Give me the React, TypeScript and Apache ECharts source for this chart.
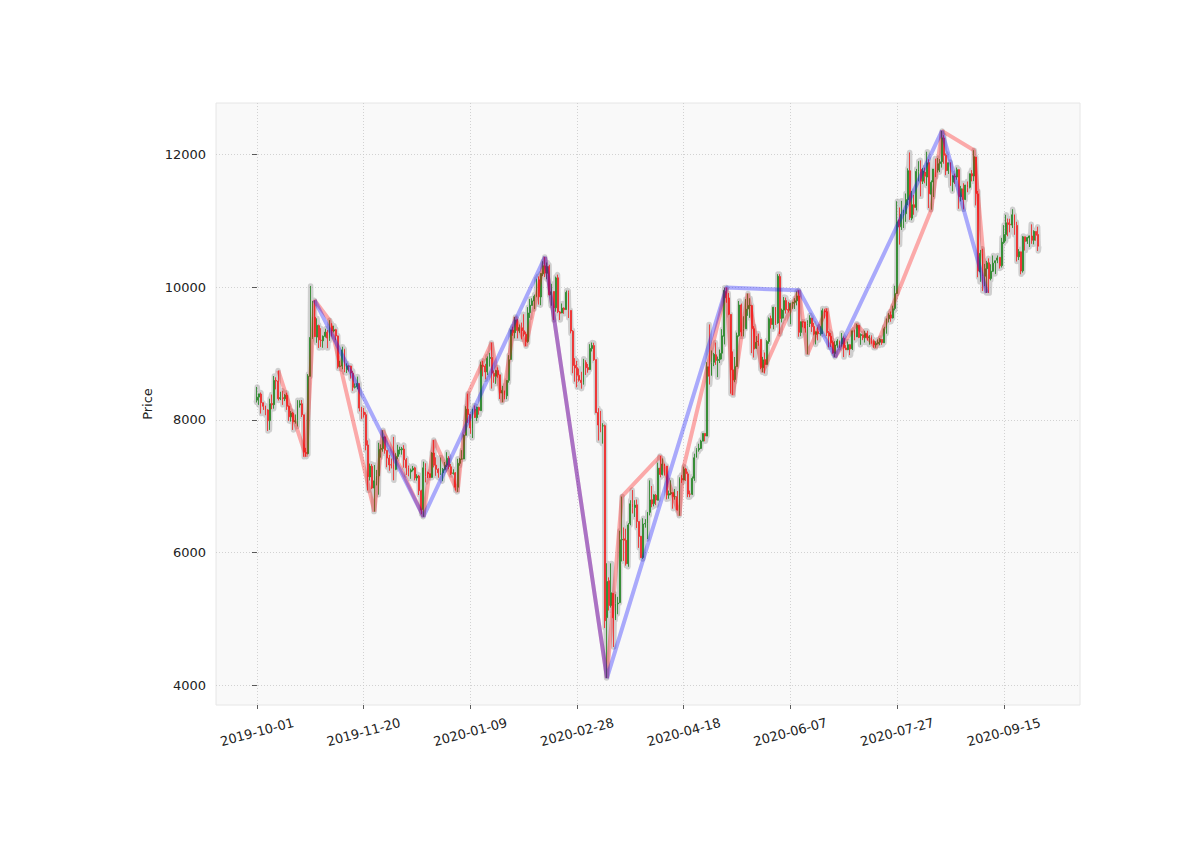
import React, { useEffect, useRef } from "react";
import * as echarts from "echarts";

// Daily candles, each row = [open, high, low, close]
const oct2019 = [
  [8299, 8497, 8263, 8344], [8344, 8393, 8227, 8393], [8390, 8413, 8096, 8260], [8260, 8260, 8151, 8206],
  [8210, 8215, 8071, 8151], [8150, 8161, 7833, 7988], [7990, 8320, 7849, 8245], [8246, 8383, 8162, 8228],
  [8230, 8662, 8169, 8595], [8595, 8643, 8460, 8586], [8586, 8745, 8293, 8321], [8321, 8425, 8298, 8336],
  [8336, 8440, 8227, 8321], [8320, 8390, 8284, 8374], [8373, 8410, 8151, 8205], [8205, 8218, 7985, 8047],
  [8048, 8134, 7975, 8103], [8100, 8120, 7849, 7973], [7973, 8082, 7944, 7988], [7997, 8298, 7902, 8222],
  [8226, 8297, 8185, 8243], [8243, 8300, 8044, 8078], [8077, 8077, 7443, 7514], [7509, 7579, 7446, 7493],
  [7491, 8691, 7480, 8660], [8657, 10021, 8657, 9244], [9242, 9794, 9222, 9551], [9549, 9806, 9258, 9256],
  [9249, 9532, 9163, 9427], [9422, 9438, 9085, 9205], [9202, 9383, 9101, 9199],
];
const nov2019 = [
  [9193, 9273, 9088, 9261], [9260, 9375, 9243, 9324], [9324, 9355, 9083, 9235], [9235, 9505, 9192, 9412],
  [9414, 9458, 9257, 9342], [9341, 9421, 9319, 9360], [9360, 9374, 9202, 9267], [9267, 9272, 8775, 8804],
  [8809, 8891, 8793, 8813], [8812, 9104, 8765, 9055], [9060, 9072, 8719, 8757], [8759, 8853, 8707, 8816],
  [8813, 8823, 8730, 8809], [8812, 8816, 8623, 8708], [8705, 8740, 8439, 8491], [8491, 8550, 8474, 8502],
  [8502, 8653, 8463, 8550], [8550, 8550, 8129, 8178], [8175, 8197, 8016, 8113], [8119, 8181, 8034, 8078],
  [8078, 8115, 7541, 7618], [7622, 7691, 6936, 7143], [7140, 7342, 7086, 7303], [7301, 7334, 6956, 6973],
  [6972, 7319, 6617, 7081], [7085, 7245, 7012, 7156], [7156, 7655, 6872, 7556], [7556, 7632, 7431, 7569],
  [7567, 7844, 7521, 7743], [7744, 7752, 7491, 7542],
];
const dec2019 = [
  [7540, 7540, 7286, 7424], [7424, 7474, 7233, 7322], [7323, 7418, 7268, 7321], [7320, 7743, 7090, 7252],
  [7254, 7498, 7242, 7448], [7450, 7625, 7407, 7547], [7548, 7596, 7480, 7556], [7551, 7592, 7476, 7565],
  [7561, 7619, 7280, 7400], [7398, 7424, 7170, 7278], [7277, 7312, 7150, 7218], [7216, 7266, 7112, 7243],
  [7245, 7305, 7223, 7269], [7277, 7293, 7088, 7124], [7125, 7181, 7084, 7152], [7154, 7171, 6867, 6932],
  [6931, 6947, 6577, 6640], [6647, 7370, 6540, 7277], [7277, 7346, 7058, 7150], [7208, 7220, 7124, 7187],
  [7188, 7190, 7125, 7133], [7133, 7513, 7129, 7501], [7501, 7696, 7283, 7317], [7318, 7436, 7157, 7255],
  [7255, 7271, 7128, 7204], [7199, 7433, 7170, 7202], [7202, 7275, 7076, 7254], [7254, 7365, 7238, 7317],
  [7317, 7513, 7290, 7423], [7421, 7454, 7257, 7293], [7294, 7335, 7170, 7193],
];
const jan2020 = [
  [7194, 7255, 7175, 7200], [7202, 7213, 6935, 6985], [6984, 7413, 6914, 7345], [7345, 7427, 7309, 7410],
  [7410, 7544, 7400, 7411], [7411, 7781, 7409, 7769], [7768, 8207, 7768, 8163], [8161, 8396, 7956, 8079],
  [8083, 8083, 7791, 7879], [7878, 8166, 7727, 8166], [8162, 8218, 8029, 8037], [8033, 8197, 7985, 8193],
  [8189, 8198, 8079, 8144], [8140, 8879, 8140, 8828], [8825, 8891, 8657, 8807], [8812, 8846, 8612, 8723],
  [8725, 8959, 8677, 8929], [8927, 9012, 8805, 8942], [8941, 9165, 8473, 8706], [8705, 8745, 8560, 8657],
  [8658, 8755, 8544, 8745], [8744, 8792, 8636, 8680], [8680, 8680, 8315, 8406], [8405, 8514, 8266, 8445],
  [8440, 8441, 8311, 8367], [8364, 8595, 8313, 8596], [8597, 8977, 8562, 8909], [8912, 9358, 8908, 9358],
  [9357, 9406, 9269, 9317], [9316, 9553, 9230, 9508], [9509, 9521, 9230, 9350],
];
const feb2020 = [
  [9346, 9439, 9313, 9393], [9389, 9468, 9217, 9345], [9345, 9594, 9260, 9293], [9292, 9331, 9112, 9181],
  [9184, 9701, 9163, 9613], [9617, 9824, 9539, 9730], [9726, 9834, 9726, 9795], [9793, 9890, 9672, 9865],
  [9863, 10129, 9850, 10116], [10115, 10165, 9740, 9856], [9855, 10210, 9730, 10208], [10203, 10393, 10169, 10326],
  [10323, 10458, 10154, 10214], [10211, 10374, 10123, 10313], [10313, 10341, 9875, 9889], [9889, 10053, 9722, 9934],
  [9937, 9938, 9507, 9690], [9691, 10161, 9632, 10142], [10144, 10191, 9611, 9633], [9629, 9643, 9507, 9608],
  [9612, 9756, 9611, 9686], [9687, 9698, 9600, 9663], [9664, 9951, 9663, 9924], [9921, 9951, 9537, 9650],
  [9651, 9652, 9305, 9341], [9338, 9354, 8704, 8820], [8825, 8932, 8577, 8784], [8788, 8890, 8492, 8672],
  [8671, 8775, 8577, 8599],
];
const mar2020 = [
  [8599, 8726, 8471, 8563], [8563, 8921, 8532, 8869], [8866, 8900, 8678, 8787], [8789, 8844, 8712, 8756],
  [8760, 9142, 8757, 9078], [9078, 9167, 9032, 9122], [9121, 9163, 8890, 8909], [8908, 8914, 8105, 8108],
  [8111, 8177, 7690, 7923], [7922, 8136, 7814, 7909], [7910, 7950, 7642, 7911], [7913, 7929, 4860, 4971],
  [5018, 5838, 4106, 5563], [5574, 5625, 5125, 5200], [5201, 5836, 5169, 5393], [5385, 5385, 4575, 5015],
  [5002, 5371, 4981, 5226], [5227, 5331, 5069, 5238], [5245, 6329, 5236, 6191], [6191, 6844, 5865, 6198],
  [6206, 6378, 5874, 6185], [6185, 6359, 5802, 5831], [5831, 6443, 5785, 6416], [6436, 6789, 6411, 6735],
  [6738, 6942, 6589, 6681], [6679, 6789, 6536, 6716], [6719, 6798, 6370, 6469], [6467, 6467, 6070, 6243],
  [6245, 6250, 5920, 5922], [5925, 6517, 5903, 6429], [6431, 6504, 6375, 6438],
];
const apr2020 = [
  [6437, 6612, 6202, 6607], [6606, 7088, 6560, 6793], [6797, 7003, 6683, 6733], [6738, 6878, 6696, 6868],
  [6863, 6883, 6715, 6792], [6788, 7355, 6788, 7271], [7274, 7456, 7134, 7177], [7176, 7419, 7163, 7335],
  [7337, 7337, 7162, 7302], [7304, 7304, 6802, 6866], [6866, 6935, 6811, 6888], [6886, 7089, 6866, 6904],
  [6904, 6904, 6661, 6842], [6842, 6958, 6797, 6842], [6845, 6928, 6633, 6642], [6640, 7134, 6555, 7116],
  [7116, 7167, 7050, 7096], [7093, 7293, 7089, 7257], [7261, 7276, 7078, 7189], [7186, 7220, 6835, 6882],
  [6880, 6934, 6834, 6880], [6879, 7146, 6867, 7117], [7121, 7491, 7081, 7429], [7434, 7574, 7434, 7551],
  [7551, 7641, 7521, 7570], [7570, 7700, 7561, 7679], [7680, 7795, 7679, 7796], [7796, 7798, 7678, 7758],
  [7756, 8871, 7756, 8801], [8801, 9440, 8533, 8659],
];
const may2020 = [
  [8672, 9048, 8667, 8864], [8869, 9012, 8811, 8989], [8983, 9167, 8830, 8897], [8896, 8956, 8645, 8912],
  [8913, 9062, 8858, 9003], [9007, 9369, 8914, 9268], [9261, 9992, 9139, 9952], [9936, 9996, 9767, 9843],
  [9840, 9913, 9580, 9594], [9591, 9595, 8396, 8756], [8755, 9033, 8374, 8601], [8610, 8949, 8569, 8805],
  [8805, 9317, 8805, 9270], [9271, 9793, 9255, 9733], [9734, 9755, 9261, 9328], [9333, 9564, 9260, 9377],
  [9374, 9823, 9374, 9670], [9675, 9906, 9570, 9727], [9727, 9836, 9539, 9729], [9726, 9727, 9007, 9377],
  [9375, 9414, 8941, 9068], [9081, 9264, 9070, 9170], [9185, 9302, 9118, 9179], [9213, 9214, 8766, 8790],
  [8786, 8951, 8719, 8906], [8910, 9017, 8700, 8835], [8837, 9203, 8834, 9181], [9184, 9546, 9148, 9525],
  [9528, 9573, 9379, 9439], [9438, 9704, 9367, 9700], [9700, 9700, 9432, 9461],
];
const jun2020 = [
  [9463, 10199, 9450, 10167], [10162, 10199, 9296, 9529], [9533, 9679, 9471, 9657], [9656, 9853, 9531, 9800],
  [9800, 9845, 9603, 9665], [9665, 9782, 9620, 9653], [9653, 9768, 9442, 9758], [9760, 9782, 9675, 9771],
  [9774, 9836, 9673, 9796], [9796, 9938, 9728, 9870], [9870, 9954, 9255, 9321], [9320, 9484, 9263, 9480],
  [9480, 9486, 9396, 9475], [9477, 9481, 9317, 9386], [9427, 9504, 8990, 9450], [9454, 9579, 9401, 9538],
  [9533, 9540, 9327, 9406], [9410, 9463, 9274, 9294], [9290, 9333, 9139, 9331], [9330, 9397, 9200, 9301],
  [9301, 9413, 9271, 9301], [9300, 9680, 9296, 9648], [9644, 9670, 9531, 9629], [9633, 9680, 9264, 9313],
  [9314, 9340, 9095, 9264], [9261, 9310, 9101, 9163], [9167, 9197, 8998, 9010], [9003, 9188, 8950, 9129],
  [9127, 9218, 9088, 9190], [9186, 9197, 9087, 9138],
];
const jul2020 = [
  [9145, 9310, 9104, 9232], [9231, 9259, 8948, 9086], [9085, 9128, 9058, 9059], [9059, 9183, 9053, 9135],
  [9135, 9142, 8977, 9069], [9073, 9345, 9055, 9343], [9350, 9361, 9201, 9253], [9253, 9450, 9250, 9429],
  [9427, 9431, 9234, 9244], [9274, 9304, 9133, 9287], [9277, 9291, 9203, 9240], [9241, 9343, 9167, 9302],
  [9304, 9345, 9197, 9243], [9242, 9279, 9134, 9253], [9255, 9275, 9149, 9197], [9192, 9215, 9088, 9133],
  [9132, 9186, 9089, 9154], [9152, 9214, 9138, 9171], [9171, 9234, 9125, 9214], [9213, 9215, 9132, 9164],
  [9163, 9404, 9164, 9375], [9376, 9530, 9300, 9525], [9527, 9610, 9470, 9581], [9585, 9636, 9481, 9536],
  [9539, 9723, 9530, 9677], [9681, 10023, 9652, 9905], [9906, 11298, 9903, 10990], [11018, 11204, 10644, 10912],
  [10913, 11304, 10865, 11100], [11110, 11169, 10895, 11111], [11110, 11415, 10988, 11323],
];
const aug2020 = [
  [11322, 11794, 11239, 11759], [11758, 12034, 11018, 11053], [11043, 11453, 11012, 11246], [11246, 11393, 11094, 11205],
  [11203, 11786, 11160, 11747], [11749, 11902, 11598, 11779], [11779, 11915, 11372, 11601], [11601, 11800, 11558, 11754],
  [11738, 11806, 11570, 11675], [11663, 12045, 11531, 11878], [11881, 11932, 11195, 11411], [11404, 11612, 11171, 11584],
  [11588, 11778, 11362, 11784], [11773, 11941, 11663, 11769], [11768, 11950, 11731, 11865], [11866, 11934, 11737, 11892],
  [11895, 12359, 11806, 12254], [12252, 12295, 11864, 11991], [11991, 12019, 11691, 11758], [11761, 11880, 11710, 11878],
  [11878, 11886, 11530, 11592], [11585, 11689, 11448, 11681], [11679, 11715, 11559, 11664], [11663, 11807, 11623, 11774],
  [11774, 11779, 11185, 11367], [11366, 11530, 11296, 11488], [11485, 11570, 11176, 11324], [11325, 11545, 11316, 11542],
  [11542, 11596, 11434, 11507], [11508, 11715, 11492, 11712], [11714, 11768, 11598, 11680],
];
const sep2020 = [
  [11679, 12068, 11601, 11971], [11965, 11965, 11235, 11414], [11409, 11453, 10152, 10245], [10231, 10564, 10083, 10512],
  [10512, 10582, 9945, 10169], [10168, 10353, 10017, 10280], [10281, 10399, 9916, 10370], [10370, 10437, 9913, 10131],
  [10134, 10348, 10105, 10242], [10242, 10480, 10231, 10364], [10370, 10397, 10200, 10400], [10410, 10480, 10364, 10443],
  [10453, 10454, 10283, 10324], [10328, 10746, 10299, 10680], [10677, 10938, 10656, 10796], [10797, 11094, 10694, 10974],
  [10973, 11037, 10770, 10948], [10951, 11034, 10829, 10944], [10938, 11178, 10895, 11094], [11095, 11095, 10792, 10938],
  [10934, 10988, 10390, 10462], [10460, 10576, 10411, 10538], [10535, 10537, 10197, 10246], [10249, 10775, 10222, 10761],
  [10762, 10762, 10554, 10692], [10696, 10759, 10654, 10750], [10746, 10780, 10608, 10775], [10774, 10950, 10656, 10709],
  [10710, 10860, 10648, 10844], [10843, 10843, 10702, 10785],
];
const oct2020 = [[10796, 10914, 10548, 10620]];

// Zigzag pivots: [day index from 2019-10-01, price]
const zigzagRed = [
  [10, 8745], [23, 7446], [27, 9806], [34, 9505], [55, 6617], [59, 7844], [78, 6540], [83, 7696],
  [94, 6914], [99, 8396], [110, 9165], [115, 8266], [121, 9553], [126, 9112], [135, 10458], [164, 4106],
  [171, 6844], [189, 7456], [198, 6555], [200, 7293], [220, 9996], [223, 8374], [230, 9906], [237, 8719],
  [254, 9954], [258, 8990], [267, 9680], [271, 8950], [281, 9450], [290, 9089], [316, 11171], [321, 12359],
  [336, 12068], [342, 9916],
];
const zigzagBlue = [
  [27, 9806], [78, 6540], [135, 10458], [164, 4106], [220, 9996], [254, 9954], [271, 8950], [321, 12359], [342, 9916],
];

const xTickDays = [0, 50, 100, 150, 200, 250, 300, 350];
const xTickLabels = ["2019-10-01", "2019-11-20", "2020-01-09", "2020-02-28", "2020-04-18", "2020-06-07", "2020-07-27", "2020-09-15"];
const yTicks = [4000, 6000, 8000, 10000, 12000];

export default function App() {
  const ref = useRef<HTMLDivElement>(null);
  useEffect(() => {
    if (!ref.current) return;
    const chart = echarts.init(ref.current, null, { renderer: "svg" });
    const rows = [
      ...oct2019, ...nov2019, ...dec2019, ...jan2020, ...feb2020, ...mar2020,
      ...apr2020, ...may2020, ...jun2020, ...jul2020, ...aug2020, ...sep2020, ...oct2020,
    ];
    const candles = rows.map((r, i) => [i, r[0], r[3], r[2], r[1]]);
    const path: number[][] = [];
    rows.forEach((r, i) => {
      const up = r[3] >= r[0];
      path.push([i - 0.4, r[0]]);
      path.push([i - 0.15, up ? r[2] : r[1]]);
      path.push([i + 0.15, up ? r[1] : r[2]]);
      path.push([i + 0.4, r[3]]);
    });
    const font = "DejaVu Sans";
    const grid = { color: "#c8c8c8", type: [1, 2] as any, width: 0.8 };
    chart.setOption({
      animation: false,
      backgroundColor: "#ffffff",
      grid: {
        left: 216, top: 103, width: 864, height: 602, show: true,
        backgroundColor: "#f9f9f9", borderColor: "#e6e6e6", borderWidth: 1,
      },
      xAxis: {
        type: "value", min: -19.2, max: 385.7,
        axisLine: { show: false },
        axisTick: { show: true, customValues: xTickDays, length: 4, lineStyle: { color: "#333", width: 0.8 } },
        axisLabel: {
          customValues: xTickDays,
          formatter: (v: number) => { const k = xTickDays.indexOf(Math.round(v)); return k >= 0 ? xTickLabels[k] : ""; },
          rotate: 15, align: "center", verticalAlign: "middle", margin: 27,
          fontSize: 13, color: "#222", fontFamily: font,
        },
        splitLine: { show: true, lineStyle: grid },
      },
      yAxis: {
        type: "value", min: 3700, max: 12780, scale: true,
        name: "Price", nameLocation: "middle", nameGap: 58, nameRotate: 90,
        nameTextStyle: { fontSize: 13, color: "#222", fontFamily: font },
        axisLine: { show: false },
        axisTick: { show: true, customValues: yTicks, length: 5, lineStyle: { color: "#333", width: 0.8 } },
        axisLabel: {
          customValues: yTicks, formatter: (v: number) => String(v), margin: 10,
          fontSize: 13, color: "#222", fontFamily: font,
        },
        splitLine: { show: true, lineStyle: grid },
      },
      series: [
        {
          type: "line", data: path, showSymbol: false, silent: true, z: 2,
          lineStyle: { color: "rgba(150,150,150,0.42)", width: 5.5, join: "round" },
        },
        {
          type: "candlestick", data: candles, silent: true, z: 3,
          encode: { x: 0, y: [1, 2, 3, 4] },
          barWidth: 1.4,
          itemStyle: {
            color: "#2f8a2f", color0: "#ee3030",
            borderColor: "#2f8a2f", borderColor0: "#ee3030", borderWidth: 0.9,
          },
        },
        {
          type: "line", data: zigzagRed, showSymbol: false, silent: true, z: 4,
          lineStyle: { color: "rgba(255,0,0,0.32)", width: 4 },
        },
        {
          type: "line", data: zigzagBlue, showSymbol: false, silent: true, z: 5,
          lineStyle: { color: "rgba(0,0,255,0.32)", width: 4 },
        },
      ],
    });
    return () => chart.dispose();
  }, []);
  return <div ref={ref} style={{ position: "fixed", left: 0, top: 0, width: 1200, height: 860 }} />;
}
